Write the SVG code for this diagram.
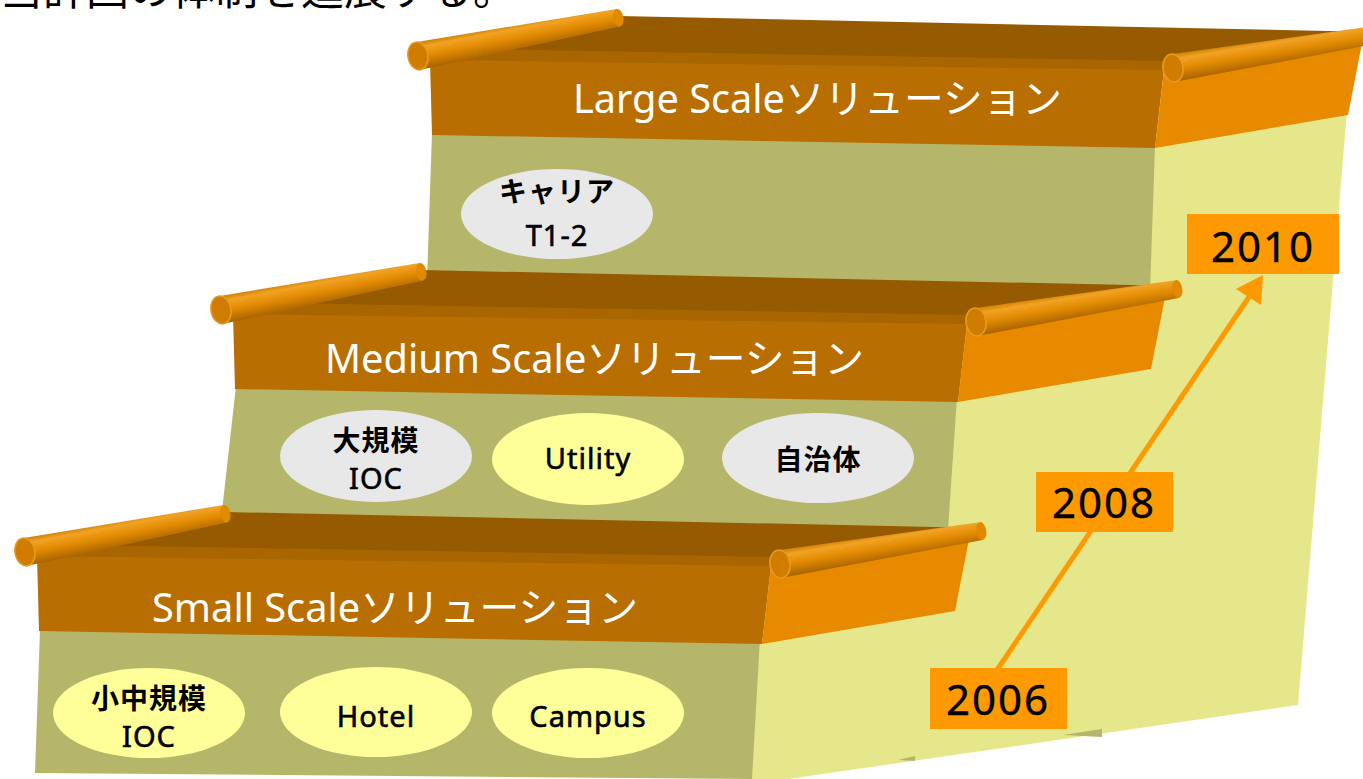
<svg xmlns="http://www.w3.org/2000/svg" xmlns:xlink="http://www.w3.org/1999/xlink" width="1363" height="779" viewBox="0 0 1363 779">
  <style>
    .riser { fill: #B6B66B; }
    .sidewall { fill: #E6E68A; }
    .top { fill: #965A00; }
    .lip { fill: #A86500; }
    .face { fill: #B86E00; }
    .side { fill: #E88A00; }
    .cap { fill: #CF7C00; stroke: #E89A20; stroke-width: 1.5; }
    .band-label { fill: #FFFFFF; font-family: "Noto Sans", "Noto Sans CJK JP", sans-serif; font-size: 40px; }
    .oval-grey { fill: #E8E8E8; }
    .oval-yellow { fill: #FFFF99; }
    .oval-text { fill: #000000; font-family: "Noto Sans", "Noto Sans CJK JP", sans-serif; font-size: 29px; text-anchor: middle; letter-spacing: 1px; stroke: #000000; stroke-width: 0.6px; }
    .cjk { font-size: 28px; font-weight: bold; stroke: none; }
    .year-box { fill: #FF9900; }
    .year-text { fill: #000000; font-family: "Noto Sans", sans-serif; font-size: 42px; text-anchor: middle; letter-spacing: 2px; stroke: #000000; stroke-width: 0.4px; }
    .title { fill: #000000; font-family: "Noto Sans CJK JP", sans-serif; font-size: 43px; }
    .timeline { stroke: #FF9900; stroke-width: 5; fill: none; }
  </style>
  <defs>
    <linearGradient id="rodShade" x1="0" y1="0" x2="0" y2="1">
      <stop offset="0" stop-color="#D08000"/>
      <stop offset="0.2" stop-color="#F2A224"/>
      <stop offset="0.55" stop-color="#E08A00"/>
      <stop offset="1" stop-color="#A86200"/>
    </linearGradient>
    <!-- one rolled edge: tapered rod with end caps, laid along +x -->
    <g id="rod">
      <polygon points="0,-14 204,-9 204,9 0,14" fill="url(#rodShade)"/>
      <ellipse cx="204" cy="0" rx="5" ry="9" fill="#E08A00"/>
      <ellipse class="cap" cx="0" cy="0" rx="10" ry="14"/>
    </g>
    <!-- one tread: top, lip, front band, right side and two rolled edges -->
    <g id="tread">
      <polygon class="top" points="2,-8 200,-40 956,-24 757,10"/>
      <polygon class="lip" points="2,-8 757,5 757,16 8,8"/>
      <polygon class="face" points="12,4 746,14 737,92 14,79"/>
      <polygon class="side" points="746,14 945,-18 930,59 737,92"/>
      <use xlink:href="#rod" transform="rotate(-10.8)"/>
      <use xlink:href="#rod" transform="translate(755,12) rotate(-9.3)"/>
    </g>
  </defs>

  <rect width="1363" height="779" fill="#FFFFFF"/>

  <!-- heading line, cut by the top edge -->
  <text class="title" x="0" y="5">当計画の体制を進展する。</text>

  <!-- right-hand wall of the staircase -->
  <g id="wall">
    <polygon class="sidewall" points="1150,140 1347,110 1298,705 740,786 745,540 945,525 950,300 1148,290"/>
    <polygon class="riser" points="1063,735 1102,729 1102,737"/>
    <polygon class="riser" points="898,760 915,756 915,761"/>
  </g>

  <!-- large step -->
  <g id="step-large">
    <polygon class="riser" points="432,133 1155,146 1150,292 427,280"/>
    <use xlink:href="#tread" transform="translate(418,56)"/>
    <text class="band-label" x="573" y="113" textLength="489" lengthAdjust="spacingAndGlyphs">Large Scaleソリューション</text>
  </g>

  <!-- medium step -->
  <g id="step-medium">
    <polygon class="riser" points="236,386 957,397 948,530 221,520"/>
    <use xlink:href="#tread" transform="translate(221,310)"/>
    <text class="band-label" x="325" y="373" textLength="539" lengthAdjust="spacingAndGlyphs">Medium Scaleソリューション</text>
  </g>

  <!-- small step -->
  <g id="step-small">
    <polygon class="riser" points="40,630 760,638 752,779 35,773"/>
    <use xlink:href="#tread" transform="translate(25,552)"/>
    <text class="band-label" x="152" y="622" textLength="486" lengthAdjust="spacingAndGlyphs">Small Scaleソリューション</text>
  </g>

  <!-- timeline arrow -->
  <g id="connectors">
    <line class="timeline" x1="997" y1="670" x2="1251" y2="294"/>
    <polygon points="1263,275 1261,305 1236,289" fill="#FF9900"/>
  </g>

  <!-- solution ovals -->
  <g id="node-carrier">
    <ellipse class="oval-grey" cx="557" cy="214" rx="96" ry="45"/>
    <text class="oval-text cjk" x="557" y="202">キャリア</text>
    <text class="oval-text" x="557" y="246" letter-spacing="4">T1-2</text>
  </g>
  <g id="node-large-ioc">
    <ellipse class="oval-grey" cx="376" cy="456" rx="96" ry="46"/>
    <text class="oval-text cjk" x="376" y="451">大規模</text>
    <text class="oval-text" x="376" y="489" letter-spacing="3">IOC</text>
  </g>
  <g id="node-utility">
    <ellipse class="oval-yellow" cx="588" cy="459" rx="96" ry="46"/>
    <text class="oval-text" x="588" y="469">Utility</text>
  </g>
  <g id="node-municipality">
    <ellipse class="oval-grey" cx="818" cy="458" rx="96" ry="45"/>
    <text class="oval-text cjk" x="818" y="470">自治体</text>
  </g>
  <g id="node-small-ioc">
    <ellipse class="oval-yellow" cx="149" cy="713" rx="96" ry="45"/>
    <text class="oval-text cjk" x="149" y="709">小中規模</text>
    <text class="oval-text" x="149" y="747" letter-spacing="3">IOC</text>
  </g>
  <g id="node-hotel">
    <ellipse class="oval-yellow" cx="376" cy="712" rx="96" ry="45"/>
    <text class="oval-text" x="376" y="727">Hotel</text>
  </g>
  <g id="node-campus">
    <ellipse class="oval-yellow" cx="588" cy="713" rx="96" ry="45"/>
    <text class="oval-text" x="588" y="727">Campus</text>
  </g>

  <!-- year markers -->
  <g id="year-2006">
    <rect class="year-box" x="930" y="668" width="137" height="61"/>
    <text class="year-text" x="998" y="715">2006</text>
  </g>
  <g id="year-2008">
    <rect class="year-box" x="1036" y="472" width="137" height="60"/>
    <text class="year-text" x="1104" y="518">2008</text>
  </g>
  <g id="year-2010">
    <rect class="year-box" x="1187" y="214" width="152" height="60"/>
    <text class="year-text" x="1263" y="262">2010</text>
  </g>
</svg>
